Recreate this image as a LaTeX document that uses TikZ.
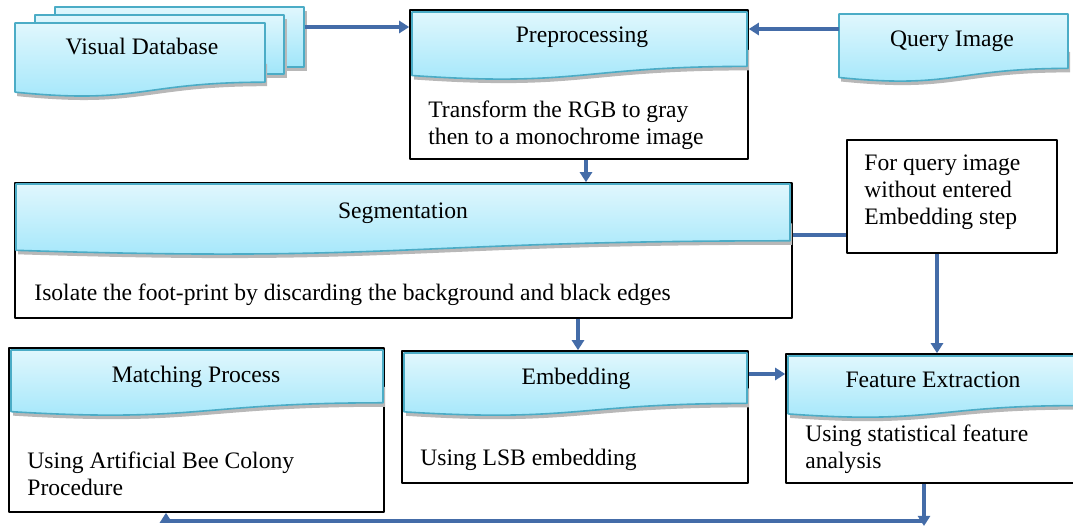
\documentclass[tikz,border=0pt]{standalone}
\usepackage{fontspec}
\setmainfont{Liberation Serif}
\usetikzlibrary{arrows.meta,fit}
\definecolor{headtop}{RGB}{224,247,253}
\definecolor{headbot}{RGB}{160,230,250}
\definecolor{headline}{RGB}{75,172,198}
\definecolor{arrowblue}{RGB}{68,108,168}
\tikzset{
	box/.style={draw=black, line width=0.8pt, fill=white, inner sep=0pt},
	head/.style={draw=headline, line width=0.8pt, top color=headtop, bottom color=headbot},
	headshadow/.style={fill=black!28},
	txt/.style={font=\fontsize{11.8}{13.6}\selectfont, inner sep=0pt, align=left},
	arr/.style={draw=arrowblue, line width=2pt, -{Triangle[length=5pt,width=6pt]}},
	link/.style={draw=arrowblue, line width=2pt},
}
% header with wavy bottom: x, y, width, height, name
\newcommand{\dochead}[5]{%
	\begin{scope}[shift={(#1+2,#2+4)},xscale=#3,yscale=#4]
		\fill[headshadow] (0,0.5) -- (1,0.5) -- (1,0.80) .. controls (0.5,0.80) and (0.5,1.107) .. (0,0.934) -- cycle;
	\end{scope}
	\begin{scope}[shift={(#1,#2)},xscale=#3,yscale=#4]
		\path[head] (0,0) -- (1,0) -- (1,0.80) .. controls (0.5,0.80) and (0.5,1.107) .. (0,0.934) -- cycle;
	\end{scope}
	\node[inner sep=0pt, fit={(#1,#2)({#1+#3},{#2+#4})}] (#5) {};
}
\begin{document}
\begin{tikzpicture}[x=0.5pt, y=-0.5pt, line join=round, >=stealth]
	\useasboundingbox (0,0) rectangle (1073,528);
	% visual database stack
	\fill[headshadow] (58,11) rectangle (307,71);
	\node[head, inner sep=0pt, fit={(55,7)(304,67)}] (dbback) {};
	\fill[headshadow] (38,19) rectangle (287,78);
	\node[head, inner sep=0pt, fit={(35,15)(284,74)}] (dbmid) {};
	\dochead{15}{23}{250}{74}{dbfront}
	\node[txt] (dbtitle) at (142,46) {Visual Database};
	% preprocessing
	\node[box, fit={(410,10)(748,159)}] (prep) {};
	\dochead{412}{12}{335}{68}{prephead}
	\node[txt] (preptitle) at (582,37) {Preprocessing};
	\node[txt, anchor=west] (preptext) at (428,125) {Transform the RGB to gray\\then to a monochrome image};
	% query image
	\dochead{839}{14}{229}{68}{query}
	\node[txt] (querytitle) at (952,41) {Query Image};
	% segmentation
	\node[box, fit={(15,183)(792,318)}] (seg) {};
	\dochead{16}{184}{774}{71}{seghead}
	\node[txt] (segtitle) at (403,213) {Segmentation};
	\node[txt, anchor=west] (segtext) at (34,295) {Isolate the foot-print by discarding the background and black edges};
	% note
	\node[box, fit={(847,140)(1057,253)}] (note) {};
	\node[txt, anchor=west] (notetext) at (864,192) {For query image\\without entered\\Embedding step};
	% matching
	\node[box, fit={(9,348)(384,512)}] (match) {};
	\dochead{11}{350}{372}{66}{matchhead}
	\node[txt] (matchtitle) at (196,377) {Matching Process};
	\node[txt, anchor=west] (matchtext) at (27,474) {Using Artificial Bee Colony\\Procedure};
	% embedding
	\node[box, fit={(402,351)(748,483)}] (emb) {};
	\dochead{404}{353}{343}{63}{embhead}
	\node[txt] (embtitle) at (576,379) {Embedding};
	\node[txt, anchor=west] (embtext) at (420,460) {Using LSB embedding};
	% feature extraction
	\node[box, fit={(786,354)(1078,483)}] (fe) {};
	\dochead{788}{356}{290}{62}{fehead}
	\node[txt] (fetitle) at (933,380) {Feature Extraction};
	\node[txt, anchor=west] (fetext) at (805,449) {Using statistical feature\\analysis};
	% connectors
	\draw[arr] (dbback.east |- 0,27) -- (prep.west |- 0,27);
	\draw[arr] (query.west |- 0,29) -- (prep.east |- 0,29);
	\draw[arr] (prep.south -| 586,0) -- (seg.north -| 586,0);
	\draw[link] (seg.east |- 0,235) -- (note.west |- 0,235);
	\draw[arr] (note.south -| 937,0) -- (fe.north -| 937,0);
	\draw[arr] (seg.south -| 578,0) -- (emb.north -| 578,0);
	\draw[arr] (emb.east |- 0,374) -- (fe.west |- 0,374);
	\coordinate (turn) at (924,521);
	\draw[arr] (fe.south -| turn) -- ([yshift=-2.5pt]turn);
	\draw[arr] (turn) -| (match.south -| 166,0);
\end{tikzpicture}
\end{document}
